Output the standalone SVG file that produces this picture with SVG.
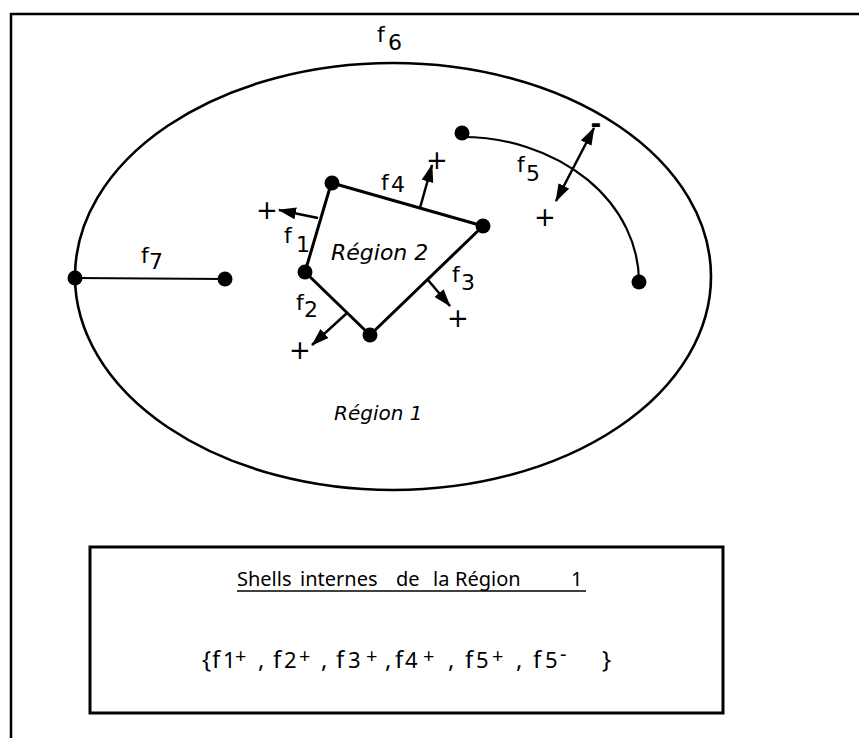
<svg xmlns="http://www.w3.org/2000/svg" width="859" height="738" viewBox="0 0 859 738">
<style>
text{font-family:"DejaVu Sans","Verdana",sans-serif;fill:#000}
.lbl{font-size:22px}
.reg{font-style:italic}
.pm{font-size:26px;text-anchor:middle}
.bx{font-family:"Noto Sans","DejaVu Sans",sans-serif;font-size:20px}
.set{font-family:"Noto Sans","DejaVu Sans",sans-serif;font-size:24px}
.edge{fill:none;stroke:#000;stroke-width:3;stroke-linecap:round}
.thin{fill:none;stroke:#000;stroke-width:2.2}
.arr{fill:none;stroke:#000;stroke-width:2.5;marker-end:url(#ah)}
.dot{fill:#000}
</style>
<defs>
<marker id="ah" markerUnits="userSpaceOnUse" markerWidth="18" markerHeight="12" refX="17" refY="6" orient="auto-start-reverse">
<path d="M0,0 L18,6 L0,12 z" fill="#000"/>
</marker>
</defs>
<rect width="859" height="738" fill="#fff"/>
<g id="frame"><path d="M11,738 V14 H859" fill="none" stroke="#000" stroke-width="2.5"/></g>
<g id="f6"><ellipse cx="393" cy="276.5" rx="318" ry="213.5" fill="none" stroke="#000" stroke-width="2.6"/>
<text class="lbl" x="377" y="42">f</text><text class="lbl" x="388" y="50">6</text></g>
<g id="connectors">
<line class="thin" x1="75" y1="278" x2="225" y2="279"/>
<path class="edge" d="M305,272 L331,184"/>
<path class="edge" d="M332,183 L483,226"/>
<path class="edge" d="M483,226 L370,335"/>
<path class="edge" d="M370,335 L305,272"/>
<path class="thin" stroke-width="2.6" d="M462,137 A177,145 0 0 1 639,282"/>
<line class="arr" x1="318" y1="218" x2="279" y2="210"/>
<line class="arr" x1="420" y1="208" x2="432" y2="165"/>
<line class="arr" x1="428" y1="280" x2="450" y2="306"/>
<line class="arr" x1="347" y1="313" x2="312" y2="345"/>
<line class="arr" x1="556" y1="201" x2="594" y2="128" style="marker-start:url(#ah)"/>
</g>
<g id="nodes">
<circle id="n-f7a" class="dot" cx="75" cy="278" r="7.5"/>
<circle id="n-f7b" class="dot" cx="225" cy="279" r="7.5"/>
<circle id="n-a" class="dot" cx="332" cy="183" r="7.5"/>
<circle id="n-b" class="dot" cx="483" cy="226" r="7.5"/>
<circle id="n-c" class="dot" cx="370" cy="335" r="7.5"/>
<circle id="n-d" class="dot" cx="305" cy="272" r="7.5"/>
<circle id="n-f5a" class="dot" cx="462" cy="133" r="7.5"/>
<circle id="n-f5b" class="dot" cx="639" cy="282" r="7.5"/>
</g>
<g id="labels">
<text class="lbl" x="141" y="263">f</text><text class="lbl" x="149" y="269">7</text>
<text class="lbl" x="284" y="243">f</text><text class="lbl" x="296" y="252">1</text>
<text class="lbl" x="296" y="310">f</text><text class="lbl" x="304" y="317">2</text>
<text class="lbl" x="452" y="282">f</text><text class="lbl" x="461" y="290">3</text>
<text class="lbl" x="381" y="190">f</text><text class="lbl" x="391" y="192">4</text>
<text class="lbl" x="517" y="172">f</text><text class="lbl" x="526" y="181">5</text>
<text class="pm" x="267" y="219">+</text>
<text class="pm" x="437" y="169">+</text>
<text class="pm" x="458" y="327">+</text>
<text class="pm" x="300" y="359">+</text>
<text class="pm" x="545" y="226">+</text>
<text class="pm" x="596" y="133" font-weight="bold">-</text>
</g>
<g id="region2"><text class="reg" x="331" y="260" font-size="22">Région 2</text></g>
<g id="region1"><text class="reg" x="334" y="420" font-size="20">Région 1</text></g>
<g id="shells">
<rect x="90" y="547" width="633" height="166" fill="none" stroke="#000" stroke-width="3"/>
<text class="bx" y="586"><tspan x="237">Shells</tspan><tspan x="300">internes</tspan><tspan x="396">de</tspan><tspan x="433">la</tspan><tspan x="455">Région</tspan><tspan x="571">1</tspan></text>
<line x1="237" y1="591" x2="586" y2="591" stroke="#000" stroke-width="1.3"/>
<text class="set" y="668"><tspan x="202">{</tspan><tspan x="212">f</tspan><tspan x="223" font-size="22">1</tspan><tspan x="235" y="663" font-size="20">+</tspan><tspan x="258" y="668">,</tspan><tspan x="273">f</tspan><tspan x="284" font-size="22">2</tspan><tspan x="299" y="663" font-size="20">+</tspan><tspan x="321" y="668">,</tspan><tspan x="336">f</tspan><tspan x="348" font-size="22">3</tspan><tspan x="366" y="663" font-size="20">+</tspan><tspan x="385" y="668">,</tspan><tspan x="395">f</tspan><tspan x="405" font-size="22">4</tspan><tspan x="423" y="663" font-size="20">+</tspan><tspan x="448" y="668">,</tspan><tspan x="465">f</tspan><tspan x="476" font-size="22">5</tspan><tspan x="492" y="663" font-size="20">+</tspan><tspan x="516" y="668">,</tspan><tspan x="533">f</tspan><tspan x="545" font-size="22">5</tspan><tspan x="560" y="661" font-size="20">-</tspan><tspan x="602" y="668">}</tspan></text>
</g>
</svg>
